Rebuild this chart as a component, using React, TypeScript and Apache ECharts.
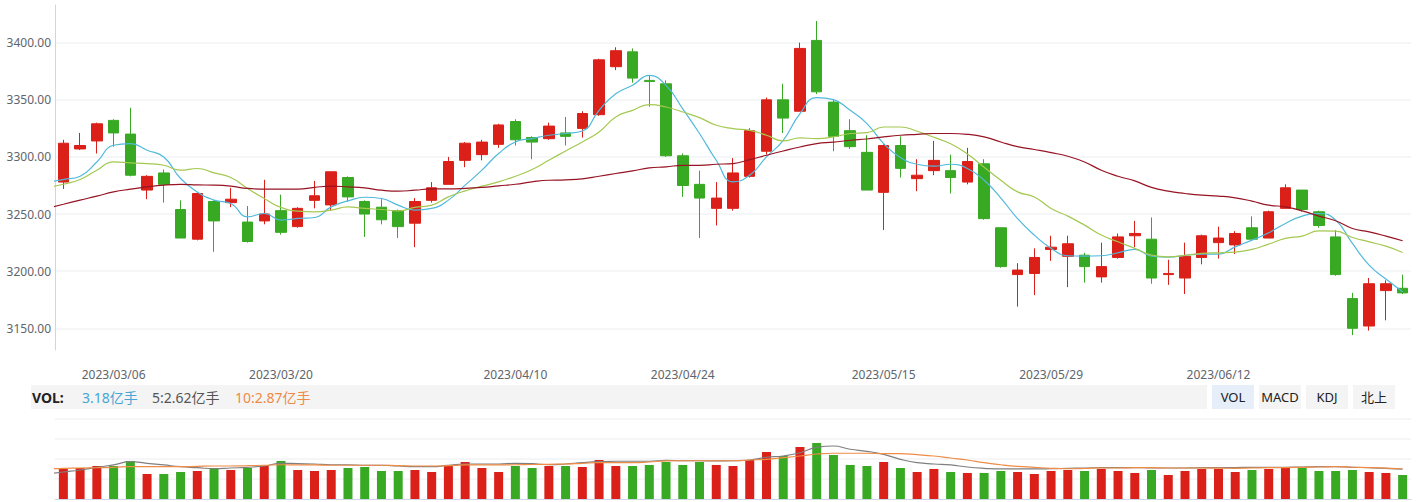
import React, { useEffect, useRef } from "react";
import * as echarts from "echarts";

const FONT = "'Noto Sans', 'Noto Sans CJK SC', sans-serif";
const RED = "#da2018";
const GREEN = "#38a923";

const dates = [
  "2023/02/28",
  "2023/03/01","2023/03/02","2023/03/03","2023/03/06","2023/03/07","2023/03/08","2023/03/09","2023/03/10",
  "2023/03/13","2023/03/14","2023/03/15","2023/03/16","2023/03/17","2023/03/20","2023/03/21","2023/03/22",
  "2023/03/23","2023/03/24","2023/03/27","2023/03/28","2023/03/29","2023/03/30","2023/03/31",
  "2023/04/03","2023/04/04","2023/04/06","2023/04/07","2023/04/10","2023/04/11","2023/04/12","2023/04/13",
  "2023/04/14","2023/04/17","2023/04/18","2023/04/19","2023/04/20","2023/04/21","2023/04/24","2023/04/25",
  "2023/04/26","2023/04/27","2023/04/28",
  "2023/05/04","2023/05/05","2023/05/08","2023/05/09","2023/05/10","2023/05/11","2023/05/12","2023/05/15",
  "2023/05/16","2023/05/17","2023/05/18","2023/05/19","2023/05/22","2023/05/23","2023/05/24","2023/05/25",
  "2023/05/26","2023/05/29","2023/05/30","2023/05/31",
  "2023/06/01","2023/06/02","2023/06/05","2023/06/06","2023/06/07","2023/06/08","2023/06/09","2023/06/12",
  "2023/06/13","2023/06/14","2023/06/15","2023/06/16","2023/06/19","2023/06/20","2023/06/21","2023/06/26",
  "2023/06/27","2023/06/28","2023/06/29",
];

const labelDates = ["2023/03/06", "2023/03/20", "2023/04/10", "2023/04/24", "2023/05/15", "2023/05/29", "2023/06/12"];

// [open, close, low, high]
const candles = [
  [3259, 3280, 3255, 3282],
  [3278, 3312, 3272, 3315], [3307, 3310, 3306, 3321], [3314, 3329, 3303, 3330], [3332, 3321, 3309, 3333],
  [3320, 3284, 3283, 3343], [3271, 3283, 3263, 3284], [3286, 3276, 3260, 3289], [3254, 3229, 3229, 3262],
  [3228, 3268, 3227, 3269], [3261, 3244, 3217, 3262], [3260, 3263, 3256, 3273], [3243, 3226, 3225, 3257],
  [3244, 3250, 3241, 3280], [3253, 3234, 3232, 3267], [3239, 3255, 3238, 3256], [3262, 3266, 3255, 3279],
  [3258, 3287, 3253, 3287], [3282, 3265, 3261, 3283], [3261, 3250, 3230, 3262], [3256, 3245, 3241, 3263],
  [3253, 3239, 3229, 3254], [3242, 3261, 3221, 3264], [3262, 3273, 3260, 3278], [3276, 3296, 3276, 3300],
  [3297, 3312, 3291, 3313], [3302, 3313, 3297, 3315], [3311, 3328, 3308, 3329], [3331, 3315, 3310, 3333],
  [3317, 3313, 3298, 3318], [3316, 3327, 3315, 3330], [3321, 3318, 3310, 3335], [3325, 3338, 3317, 3340],
  [3337, 3385, 3336, 3386], [3379, 3393, 3376, 3396], [3392, 3369, 3365, 3395], [3367, 3366, 3344, 3371],
  [3364, 3301, 3300, 3367], [3301, 3275, 3265, 3303], [3276, 3264, 3229, 3288], [3255, 3264, 3240, 3278],
  [3255, 3286, 3253, 3299], [3283, 3323, 3282, 3325], [3305, 3350, 3302, 3352], [3350, 3334, 3321, 3364],
  [3340, 3395, 3340, 3400], [3402, 3357, 3355, 3419], [3348, 3318, 3305, 3350], [3323, 3309, 3307, 3333],
  [3304, 3271, 3271, 3319], [3269, 3310, 3236, 3311], [3310, 3290, 3282, 3318], [3281, 3284, 3270, 3298],
  [3288, 3297, 3284, 3314], [3288, 3282, 3268, 3302], [3278, 3296, 3276, 3308], [3294, 3246, 3245, 3298],
  [3238, 3204, 3203, 3238], [3197, 3201, 3169, 3207], [3198, 3212, 3179, 3220], [3219, 3221, 3209, 3231],
  [3213, 3224, 3186, 3231], [3214, 3204, 3190, 3216], [3195, 3204, 3190, 3225], [3212, 3230, 3211, 3233],
  [3231, 3233, 3221, 3244], [3228, 3194, 3189, 3247], [3197, 3198, 3188, 3210], [3194, 3213, 3180, 3225],
  [3212, 3231, 3206, 3232], [3225, 3229, 3211, 3239], [3223, 3233, 3215, 3235], [3238, 3228, 3228, 3248],
  [3229, 3252, 3229, 3253], [3255, 3273, 3255, 3276], [3271, 3254, 3252, 3271], [3252, 3240, 3238, 3253],
  [3230, 3197, 3196, 3236], [3176, 3150, 3144, 3181], [3152, 3189, 3148, 3194], [3183, 3189, 3157, 3192],
  [3185, 3181, 3180, 3197],
];

const ma5 = [
  3277.7,
  3280.2, 3283.1, 3295.6, 3310.2, 3311.7, 3305.9, 3300.0, 3281.1, 3269.4, 3262.2,
  3259.3, 3247.6, 3250.5, 3244.7, 3246.2, 3247.0, 3256.3, 3261.5, 3264.7, 3263.6,
  3257.8, 3253.4, 3254.9, 3262.2, 3275.3, 3288.4, 3303.0, 3313.1, 3316.1, 3319.0,
  3320.5, 3322.7, 3340.8, 3355.4, 3362.7, 3371.4, 3362.7, 3342.0, 3320.5, 3297.1,
  3278.2, 3284.0, 3300.0, 3314.6, 3337.9, 3351.9, 3350.2, 3340.8, 3329.2, 3311.7,
  3299.5, 3293.6, 3291.9, 3293.6, 3289.9, 3279.6, 3264.0, 3246.0, 3231.6, 3220.0,
  3213.5, 3213.2, 3213.5, 3216.1, 3219.1, 3213.2, 3212.3, 3213.8, 3214.9, 3214.9,
  3221.3, 3227.2, 3233.6, 3241.8, 3248.2, 3250.5, 3244.7, 3224.3, 3205.3, 3193.1,
  3182.0,
];

const ma10 = [
  3273.1,
  3276.1, 3280.2, 3288.4, 3295.6, 3294.8, 3294.2, 3292.7, 3288.4, 3289.9, 3286.0,
  3282.0, 3272.4, 3263.6, 3255.8, 3252.5, 3251.9, 3253.4, 3256.3, 3254.9, 3254.0,
  3252.8, 3255.8, 3257.8, 3265.0, 3270.3, 3274.4, 3278.2, 3283.1, 3289.0, 3297.1,
  3305.2, 3313.1, 3321.9, 3335.0, 3340.8, 3345.8, 3343.7, 3339.3, 3334.4, 3327.7,
  3324.8, 3323.3, 3319.0, 3314.0, 3316.6, 3316.1, 3317.5, 3320.5, 3321.3, 3326.2,
  3326.2, 3322.5, 3317.2, 3311.5, 3302.6, 3291.0, 3279.6, 3269.4, 3265.0, 3254.9,
  3248.2, 3240.3, 3231.6, 3225.7, 3220.0, 3214.1, 3212.6, 3213.8, 3215.6, 3216.1,
  3216.7, 3219.1, 3223.7, 3228.7, 3230.7, 3235.3, 3235.0, 3229.5, 3225.7, 3221.9,
  3216.4,
];

const ma30 = [
  3255.0,
  3258.6, 3262.2, 3265.7, 3269.4, 3271.8, 3273.8, 3275.3, 3275.9, 3275.5, 3275.3,
  3274.4, 3272.4, 3271.8, 3271.8, 3271.8, 3273.3, 3274.4, 3273.8, 3272.9, 3270.9,
  3270.0, 3270.9, 3272.0, 3272.0, 3272.4, 3273.3, 3274.7, 3276.1, 3278.2, 3279.6,
  3279.9, 3280.8, 3283.1, 3285.5, 3287.8, 3290.4, 3291.3, 3292.7, 3292.7, 3293.6,
  3294.2, 3297.7, 3301.5, 3305.2, 3308.7, 3311.7, 3312.9, 3314.6, 3315.7, 3317.5,
  3319.0, 3319.8, 3320.5, 3320.5, 3319.8, 3317.5, 3313.1, 3309.0, 3306.5, 3303.8,
  3300.6, 3295.6, 3288.4, 3283.1, 3279.0, 3273.3, 3270.0, 3268.0, 3266.5, 3265.7,
  3264.2, 3261.3, 3257.8, 3256.3, 3252.8, 3248.2, 3244.1, 3237.4, 3234.4, 3230.7,
  3226.6,
];

// volume in 亿手
const volumes = [
  3.9,
  3.98, 4.11, 4.37, 4.37, 5.04, 3.31, 3.31, 3.58, 3.71, 4.11,
  3.84, 4.11, 4.37, 5.04, 3.84, 3.71, 3.84, 4.11, 4.24, 3.71,
  3.71, 3.84, 3.58, 4.51, 4.90, 4.11, 3.58, 4.37, 4.11, 4.37,
  4.37, 4.24, 5.17, 4.37, 4.37, 4.51, 4.90, 4.51, 4.90, 4.51,
  4.37, 5.17, 6.23, 5.70, 6.89, 7.42, 5.83, 4.51, 4.37, 4.90,
  4.11, 3.58, 3.98, 3.58, 3.45, 3.45, 3.71, 3.58, 3.31, 3.71,
  3.84, 3.71, 3.98, 3.71, 3.45, 3.84, 3.18, 3.71, 3.98, 3.98,
  3.58, 3.84, 3.98, 4.11, 4.11, 3.71, 3.71, 3.84, 3.58, 3.45,
  3.18,
];

const volMa5 = [
  3.31,
  3.58, 3.84, 4.20, 4.51, 4.94, 4.73, 4.51, 4.28, 4.15, 4.01,
  4.11, 4.20, 4.37, 4.73, 4.68, 4.64, 4.54, 4.54, 4.47, 4.47,
  4.37, 4.28, 4.28, 4.47, 4.64, 4.64, 4.64, 4.73, 4.68, 4.54,
  4.64, 4.81, 4.94, 5.00, 5.00, 5.00, 5.13, 5.07, 5.07, 5.04,
  5.07, 5.17, 5.53, 5.70, 6.13, 6.85, 7.02, 6.59, 6.32, 5.92,
  5.26, 4.81, 4.64, 4.51, 4.24, 4.07, 3.98, 3.98, 3.98, 4.01,
  4.07, 4.11, 4.17, 4.17, 4.17, 4.11, 4.11, 4.11, 4.15, 4.15,
  4.17, 4.20, 4.20, 4.20, 4.24, 4.28, 4.28, 4.20, 4.15, 4.07,
  3.94,
];

const volMa10 = [
  3.95,
  4.07, 4.11, 4.15, 4.20, 4.28, 4.28, 4.28, 4.28, 4.33, 4.37,
  4.37, 4.41, 4.47, 4.54, 4.51, 4.51, 4.47, 4.47, 4.47, 4.47,
  4.41, 4.37, 4.37, 4.41, 4.51, 4.51, 4.51, 4.54, 4.57, 4.60,
  4.64, 4.73, 4.81, 4.81, 4.81, 4.90, 5.04, 5.07, 5.07, 5.07,
  5.07, 5.17, 5.26, 5.47, 5.70, 5.96, 6.06, 6.06, 6.06, 6.00,
  6.00, 5.87, 5.70, 5.43, 5.17, 4.81, 4.54, 4.33, 4.20, 4.07,
  4.01, 4.04, 4.11, 4.11, 4.15, 4.15, 4.11, 4.11, 4.11, 4.08,
  4.07, 4.11, 4.15, 4.17, 4.20, 4.24, 4.28, 4.21, 4.15, 4.08,
  4.01,
];

const volHeaderTexts = [
  { text: "VOL:", color: "#222222", bold: true },
  { text: "3.18亿手", color: "#45a6d6", bold: false },
  { text: "5:2.62亿手", color: "#555555", bold: false },
  { text: "10:2.87亿手", color: "#ef8a44", bold: false },
];
const volHeaderX = [32, 82, 152, 235];

const tabNames = ["VOL", "MACD", "KDJ", "北上"];
const tabActive = "VOL";

export default function App() {
  const ref = useRef<HTMLDivElement>(null);

  useEffect(() => {
    if (!ref.current) return;
    const chart = echarts.init(ref.current, undefined, { renderer: "svg" });

    const isUp = candles.map((c) => c[1] > c[0]);

    const graphic: any[] = [
      {
        type: "rect",
        x: 31,
        y: 385,
        shape: { width: 1176, height: 24 },
        style: { fill: "#f4f4f4" },
        silent: true,
      },
    ];
    volHeaderTexts.forEach((t, i) => {
      graphic.push({
        type: "text",
        x: volHeaderX[i],
        y: 397,
        style: {
          text: t.text,
          fill: t.color,
          font: `${t.bold ? "bold " : ""}14px ${FONT}`,
          verticalAlign: "middle",
          align: "left",
        },
      });
    });
    tabNames.forEach((name, i) => {
      const x = 1212 + i * 47;
      graphic.push({
        type: "rect",
        x,
        y: 385,
        shape: { width: 42, height: 24 },
        style: { fill: name === tabActive ? "#e5eef9" : "#f4f4f4" },
      });
      graphic.push({
        type: "text",
        x: x + 21,
        y: 397,
        style: {
          text: name,
          fill: "#222222",
          font: `13px ${FONT}`,
          align: "center",
          verticalAlign: "middle",
        },
      });
    });

    const option: any = {
      animation: false,
      textStyle: { fontFamily: FONT },
      grid: [
        { left: 55, right: 10, top: 5, height: 345 },
        { left: 55, right: 10, top: 419, height: 80 },
      ],
      xAxis: [
        {
          type: "category",
          gridIndex: 0,
          data: dates,
          min: 1,
          boundaryGap: true,
          axisLine: { show: false },
          axisTick: { show: false },
          splitLine: { show: false },
          axisLabel: {
            interval: (_idx: number, value: string) => labelDates.includes(value),
            color: "#60646b",
            fontSize: 12,
            fontFamily: FONT,
            margin: 18,
          },
        },
        {
          type: "category",
          gridIndex: 1,
          data: dates,
          min: 1,
          boundaryGap: true,
          axisLine: { show: true, lineStyle: { color: "#cdd6e4", width: 1 } },
          axisTick: { show: false },
          axisLabel: { show: false },
          splitLine: { show: false },
        },
      ],
      yAxis: [
        {
          type: "value",
          gridIndex: 0,
          min: 3131,
          max: 3433,
          axisLine: { show: true, lineStyle: { color: "#cdd6e4", width: 1 } },
          axisTick: { show: false },
          axisLabel: {
            color: "#60646b",
            fontSize: 12,
            fontFamily: FONT,
            margin: 4,
            showMinLabel: false,
            showMaxLabel: false,
            formatter: (v: number) => v.toFixed(2),
          },
          splitLine: {
            show: true,
            showMinLine: false,
            showMaxLine: false,
            lineStyle: { color: "#f2f3f5", width: 1.5 },
          },
        },
        {
          type: "value",
          gridIndex: 1,
          min: 0,
          max: 10.6,
          interval: 2.65,
          axisLine: { show: false },
          axisTick: { show: false },
          axisLabel: { show: false },
          splitLine: {
            show: true,
            showMinLine: false,
            lineStyle: { color: "#f2f3f5", width: 1.5 },
          },
        },
      ],
      series: [
        {
          name: "K",
          type: "candlestick",
          xAxisIndex: 0,
          yAxisIndex: 0,
          data: candles,
          barWidth: 11,
          clip: true,
          itemStyle: {
            color: RED,
            color0: GREEN,
            borderColor: RED,
            borderColor0: GREEN,
            borderWidth: 1,
          },
        },
        {
          name: "MA5",
          type: "line",
          xAxisIndex: 0,
          yAxisIndex: 0,
          data: ma5,
          smooth: true,
          symbol: "none",
          clip: true,
          lineStyle: { color: "#50b9dc", width: 1.2 },
        },
        {
          name: "MA10",
          type: "line",
          xAxisIndex: 0,
          yAxisIndex: 0,
          data: ma10,
          smooth: true,
          symbol: "none",
          clip: true,
          lineStyle: { color: "#a5c850", width: 1.2 },
        },
        {
          name: "MA30",
          type: "line",
          xAxisIndex: 0,
          yAxisIndex: 0,
          data: ma30,
          smooth: true,
          symbol: "none",
          clip: true,
          lineStyle: { color: "#961423", width: 1.2 },
        },
        {
          name: "VOL",
          type: "bar",
          xAxisIndex: 1,
          yAxisIndex: 1,
          barWidth: 9,
          clip: true,
          data: volumes.map((v, i) => ({
            value: v,
            itemStyle: { color: isUp[i] ? RED : GREEN },
          })),
        },
        {
          name: "VMA5",
          type: "line",
          xAxisIndex: 1,
          yAxisIndex: 1,
          data: volMa5,
          smooth: true,
          symbol: "none",
          clip: true,
          lineStyle: { color: "#7f7f7f", width: 1.2 },
        },
        {
          name: "VMA10",
          type: "line",
          xAxisIndex: 1,
          yAxisIndex: 1,
          data: volMa10,
          smooth: true,
          symbol: "none",
          clip: true,
          lineStyle: { color: "#ef8c45", width: 1.2 },
        },
      ],
      graphic,
    };

    chart.setOption(option);
    return () => {
      chart.dispose();
    };
  }, []);

  return (
    <div
      ref={ref}
      style={{ position: "absolute", left: 0, top: 0, width: 1421, height: 502, background: "#ffffff" }}
    />
  );
}
